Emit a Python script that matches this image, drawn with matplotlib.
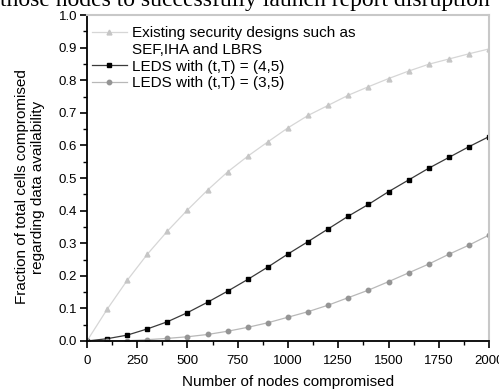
import matplotlib
matplotlib.use("Agg")
import matplotlib.pyplot as plt
import matplotlib.ticker as ticker
from matplotlib.lines import Line2D

plt.rcParams["font.family"] = ["Liberation Sans", "DejaVu Sans"]

# nodes compromised
nodes = [0, 100, 200, 300, 400, 500, 600, 700, 800, 900, 1000,
         1100, 1200, 1300, 1400, 1500, 1600, 1700, 1800, 1900, 2000]

existing = [0.0, 0.097, 0.186, 0.266, 0.337, 0.402, 0.463, 0.519, 0.567, 0.611, 0.654,
            0.692, 0.723, 0.754, 0.780, 0.805, 0.828, 0.849, 0.865, 0.881, 0.896]
leds_45 = [0.0, 0.007, 0.018, 0.037, 0.059, 0.087, 0.119, 0.153, 0.189, 0.227, 0.267,
           0.305, 0.344, 0.383, 0.419, 0.458, 0.494, 0.530, 0.563, 0.596, 0.627]
leds_35 = [0.0, 0.0, 0.001, 0.004, 0.008, 0.013, 0.020, 0.030, 0.042, 0.056, 0.073,
           0.090, 0.110, 0.133, 0.156, 0.182, 0.209, 0.236, 0.266, 0.294, 0.325]

labels = ["Existing security designs such as", "SEF,IHA and LBRS",
          "LEDS with (t,T) = (4,5)", "LEDS with (t,T) = (3,5)"]

fig = plt.figure(figsize=(4.99, 3.89), dpi=100)
ax = fig.add_axes([0.1743, 0.1234, 0.8057, 0.838])

# cut-off line of the paper text above the figure
fig.text(0.49, 1 - 6 / 389, "those nodes to successfully launch report disruption",
         family="Liberation Serif", fontsize=17, ha="center", va="baseline")

l1, = ax.plot(nodes, existing, color="#d6d6d6", lw=0.9, marker="^", ms=3.5,
              mfc="#c6c6c6", mec="#c6c6c6")
l2, = ax.plot(nodes, leds_45, color="#3a3a3a", lw=0.9, marker="s", ms=2.8,
              mfc="black", mec="black")
l3, = ax.plot(nodes, leds_35, color="#b8b8b8", lw=0.9, marker="o", ms=3.2,
              mfc="#959595", mec="#959595")
blank = Line2D([], [], color="none")

leg = ax.legend([l1, blank, l2, l3], labels, loc="upper left",
                bbox_to_anchor=(0.012, 0.965), frameon=False, fontsize=11,
                handlelength=2.3, handletextpad=0.35, labelspacing=0.17,
                borderpad=0, borderaxespad=0)

ax.set_xlim(0, 2000)
ax.set_ylim(0, 1.0)
ax.xaxis.set_major_locator(ticker.MultipleLocator(250))
ax.xaxis.set_minor_locator(ticker.MultipleLocator(125))
ax.yaxis.set_major_locator(ticker.MultipleLocator(0.1))
ax.yaxis.set_minor_locator(ticker.MultipleLocator(0.05))
ax.yaxis.set_major_formatter(ticker.FormatStrFormatter("%.1f"))

ax.tick_params(which="major", direction="out", length=5, width=1.2,
               labelsize=9.5, pad=5)
ax.tick_params(which="minor", direction="out", length=3, width=1.0)
ax.tick_params(axis="y", pad=2)

for s in ["left", "bottom"]:
    ax.spines[s].set_linewidth(1.3)
for s in ["top", "right"]:
    ax.spines[s].set_color("#c8c8c8")
    ax.spines[s].set_linewidth(1.5)

ax.set_xlabel("Number of nodes compromised", fontsize=11, labelpad=6)
fig.text(30 / 499, 1 - 187 / 389,
         "Fraction of total cells compromised\nregarding data availability",
         rotation=90, ha="center", va="center", fontsize=11)

fig.savefig("out.png", dpi=100)
